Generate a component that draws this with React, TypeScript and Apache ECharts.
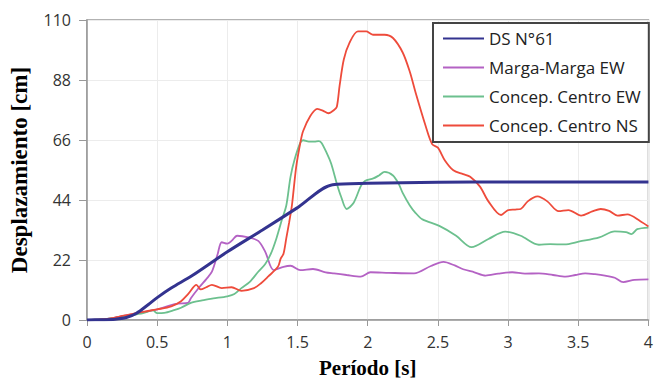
import React, { useEffect, useRef } from "react";
import * as echarts from "echarts";

const seriesNames = ["DS N°61", "Marga-Marga EW", "Concep. Centro EW", "Concep. Centro NS"];

const dsPeriods = [0, 0.1, 0.2, 0.28, 0.35, 0.44, 0.5, 0.6, 0.75, 1.0, 1.25, 1.5, 1.75, 2.0, 2.5, 3.0, 3.5, 4.0];
const dsValues = [0, 0.1, 0.3, 0.9, 2.4, 5.8, 8.2, 11.7, 16.3, 25.0, 33.0, 41.2, 49.6, 50.1, 50.5, 50.6, 50.6, 50.6];

const margaPeriods = [0, 0.1, 0.2, 0.3, 0.4, 0.5, 0.6, 0.65, 0.72, 0.74, 0.8, 0.85, 0.89, 0.93, 0.96, 1.0, 1.03, 1.07, 1.15, 1.22, 1.27, 1.33, 1.4, 1.45, 1.52, 1.61, 1.7, 1.76, 1.85, 1.95, 2.02, 2.15, 2.33, 2.45, 2.54, 2.62, 2.68, 2.76, 2.84, 2.93, 3.03, 3.12, 3.22, 3.32, 3.41, 3.48, 3.55, 3.62, 3.69, 3.76, 3.82, 3.9, 4.0];
const margaValues = [0, 0.2, 0.9, 1.9, 2.9, 3.9, 5.5, 6.0, 6.3, 8.0, 12.0, 15.0, 17.7, 24.0, 28.5, 28.0, 29.0, 30.9, 30.3, 29.0, 25.0, 18.3, 19.5, 19.9, 18.3, 18.7, 17.5, 17.1, 16.5, 15.9, 17.5, 17.3, 17.1, 19.8, 21.3, 20.0, 18.6, 17.5, 16.3, 17.0, 17.5, 17.0, 17.1, 16.5, 15.9, 16.5, 17.1, 16.8, 16.3, 15.5, 13.9, 14.7, 14.9];

const ceEwPeriods = [0, 0.1, 0.2, 0.3, 0.4, 0.47, 0.5, 0.55, 0.62, 0.67, 0.74, 0.82, 0.9, 1.0, 1.05, 1.1, 1.16, 1.22, 1.27, 1.31, 1.35, 1.39, 1.42, 1.45, 1.48, 1.52, 1.54, 1.58, 1.62, 1.65, 1.67, 1.71, 1.74, 1.78, 1.81, 1.85, 1.9, 1.95, 1.98, 2.04, 2.08, 2.12, 2.18, 2.22, 2.25, 2.3, 2.34, 2.39, 2.51, 2.63, 2.74, 2.86, 2.98, 3.09, 3.22, 3.3, 3.4, 3.51, 3.65, 3.76, 3.84, 3.88, 3.92, 4.0];
const ceEwValues = [0, 0.2, 0.8, 1.6, 2.5, 3.5, 2.5, 2.6, 3.6, 4.5, 6.3, 7.2, 7.9, 8.7, 9.5, 11.7, 14.0, 17.7, 20.5, 24.3, 30.0, 37.0, 42.0, 52.5, 59.0, 65.0, 65.9, 65.4, 65.4, 65.6, 65.0, 61.0, 57.3, 50.0, 45.3, 40.7, 43.0, 49.0, 51.0, 51.9, 53.0, 54.3, 53.0, 50.0, 46.5, 42.0, 39.3, 36.9, 34.5, 30.9, 26.7, 29.7, 32.4, 30.9, 27.6, 27.8, 27.7, 28.8, 30.3, 32.5, 32.2, 31.5, 33.3, 33.9];

const ceNsPeriods = [0, 0.1, 0.2, 0.3, 0.4, 0.5, 0.6, 0.67, 0.72, 0.78, 0.81, 0.85, 0.89, 0.96, 1.03, 1.1, 1.19, 1.24, 1.29, 1.36, 1.38, 1.4, 1.42, 1.44, 1.46, 1.49, 1.52, 1.54, 1.59, 1.64, 1.68, 1.72, 1.76, 1.78, 1.8, 1.83, 1.87, 1.93, 1.99, 2.02, 2.04, 2.12, 2.18, 2.25, 2.3, 2.34, 2.41, 2.46, 2.5, 2.55, 2.61, 2.68, 2.73, 2.8, 2.86, 2.95, 3.0, 3.05, 3.09, 3.14, 3.21, 3.28, 3.36, 3.43, 3.52, 3.6, 3.66, 3.72, 3.78, 3.85, 3.94, 4.0];
const ceNsValues = [0, 0.2, 0.9, 2.0, 3.0, 3.9, 5.0, 6.9, 9.5, 12.9, 11.2, 12.0, 12.9, 11.7, 12.0, 10.7, 11.7, 13.5, 15.9, 19.5, 22.5, 24.3, 30.0, 35.7, 42.0, 56.0, 65.0, 69.3, 74.7, 77.4, 76.8, 75.8, 77.0, 78.2, 86.0, 95.6, 101.6, 105.8, 105.8, 105.0, 104.6, 104.6, 103.4, 98.0, 91.0, 83.6, 71.6, 64.4, 63.2, 58.5, 54.9, 53.5, 52.5, 48.9, 43.5, 38.5, 40.3, 40.5, 40.7, 43.5, 45.3, 43.5, 39.9, 40.3, 38.3, 39.8, 40.7, 40.0, 38.3, 38.7, 36.3, 34.3];

const yTicks = [0, 22, 44, 66, 88, 110];
const xTicks = [0, 0.5, 1, 1.5, 2, 2.5, 3, 3.5, 4];

const colors = ["#33338f", "#b462c4", "#6cc08e", "#ee4b3b"];
const widths = [3, 1.8, 1.8, 1.8];

const pair = (xs: number[], ys: number[]) => xs.map((x, i) => [x, ys[i]]);

export default function App() {
  const ref = useRef<HTMLDivElement>(null);
  useEffect(() => {
    if (!ref.current) return;
    const chart = echarts.init(ref.current, null, { renderer: "svg" });
    const datasets = [
      pair(dsPeriods, dsValues),
      pair(margaPeriods, margaValues),
      pair(ceEwPeriods, ceEwValues),
      pair(ceNsPeriods, ceNsValues),
    ];
    const tickFont = { fontFamily: "Open Sans", fontSize: 16, color: "#333" };
    chart.setOption({
      animation: false,
      backgroundColor: "#fff",
      grid: {
        left: 79,
        right: 7,
        top: 20,
        bottom: 57,
        show: true,
        borderColor: "#999",
        borderWidth: 1.5,
      },
      legend: {
        orient: "vertical",
        left: 433,
        top: 23,
        padding: [7, 8, 8, 9],
        itemGap: 12,
        itemWidth: 41,
        itemHeight: 14,
        backgroundColor: "#fff",
        borderColor: "#444",
        borderWidth: 2,
        borderRadius: 0,
        data: seriesNames,
        itemStyle: { opacity: 0 },
        textStyle: { fontFamily: "Open Sans", fontSize: 17, color: "#222" },
      },
      xAxis: {
        type: "value",
        min: xTicks[0],
        max: xTicks[xTicks.length - 1],
        interval: 0.5,
        name: "Período [s]",
        nameLocation: "middle",
        nameGap: 37,
        nameTextStyle: { fontFamily: "Liberation Serif", fontWeight: "bold", fontSize: 21, color: "#000" },
        axisLine: { show: true, lineStyle: { color: "#999", width: 1.5 } },
        axisTick: { show: true, length: 6, lineStyle: { color: "#999" } },
        axisLabel: { ...tickFont, margin: 14 },
        splitLine: { show: true, lineStyle: { color: "#ececec", width: 1 } },
      },
      yAxis: {
        type: "value",
        min: yTicks[0],
        max: yTicks[yTicks.length - 1],
        interval: 22,
        name: "Desplazamiento [cm]",
        nameLocation: "middle",
        nameGap: 56,
        nameTextStyle: { fontFamily: "Liberation Serif", fontWeight: "bold", fontSize: 23, color: "#000" },
        axisLine: { show: true, lineStyle: { color: "#999", width: 1.5 } },
        axisTick: { show: true, length: 8, lineStyle: { color: "#999" } },
        axisLabel: { ...tickFont, margin: 16 },
        splitLine: { show: true, lineStyle: { color: "#ececec", width: 1 } },
      },
      series: seriesNames.map((name, i) => ({
        name,
        type: "line",
        data: datasets[i],
        showSymbol: false,
        symbol: "none",
        smooth: 0.3,
        z: i === 0 ? 5 : 3,
        lineStyle: { color: colors[i], width: widths[i] },
        itemStyle: { color: colors[i] },
      })),
    });
    return () => chart.dispose();
  }, []);
  return (
    <div
      ref={ref}
      style={{ position: "fixed", left: 0, top: 0, width: 656, height: 383 }}
    />
  );
}
